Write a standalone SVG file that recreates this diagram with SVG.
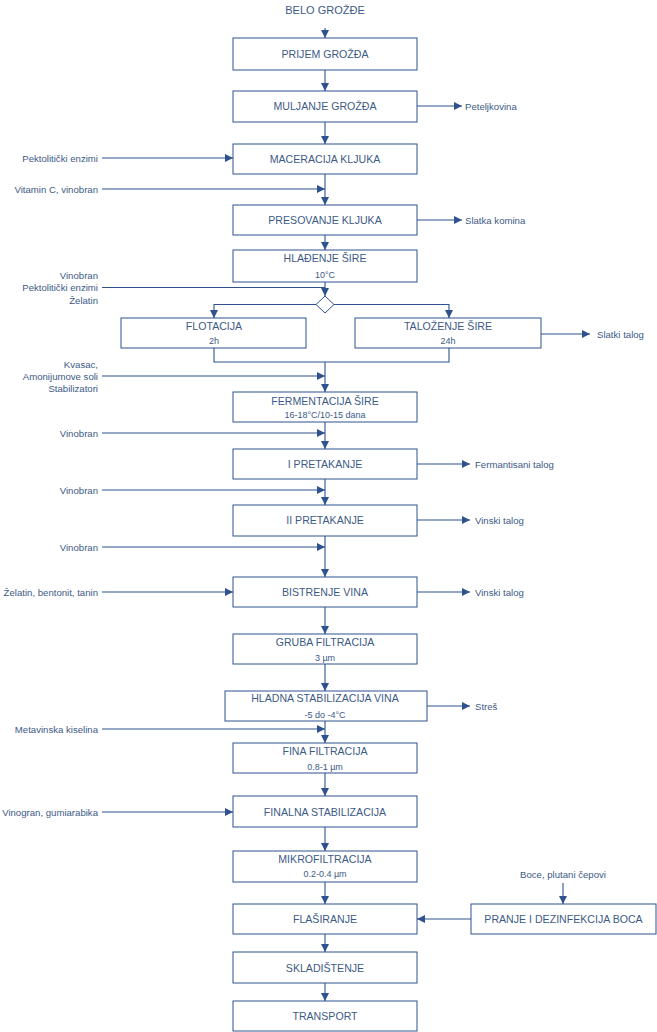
<svg xmlns="http://www.w3.org/2000/svg" width="657" height="1032" viewBox="0 0 657 1032">
<style>
.bx{fill:#ffffff;stroke:#2F528F;stroke-width:1}
.t{font-family:'Liberation Sans',Arial,sans-serif;font-size:10.6px;fill:#3D5A86;text-anchor:middle}
.s{font-size:9px}
.l{font-family:'Liberation Sans',Arial,sans-serif;font-size:9.6px;fill:#3D5A86;text-anchor:end}
.r{font-family:'Liberation Sans',Arial,sans-serif;font-size:9.6px;fill:#3D5A86;text-anchor:start}
.c{fill:none;stroke:#2F528F;stroke-width:1.1}
.a{marker-end:url(#ah)}
</style>
<defs>
<marker id="ah" markerUnits="userSpaceOnUse" markerWidth="9" markerHeight="8" refX="8" refY="4" orient="auto" viewBox="0 0 9 8">
<path d="M0,0 L8,4 L0,8 z" fill="#2F528F"/>
</marker>
</defs>
<rect width="657" height="1032" fill="#ffffff"/>
<g id="connectors">
<line class="c a" x1="325" y1="28" x2="325" y2="38"/>
<line class="c a" x1="325" y1="70" x2="325" y2="91"/>
<line class="c a" x1="417" y1="106" x2="462" y2="106"/>
<line class="c a" x1="325" y1="122" x2="325" y2="144"/>
<line class="c a" x1="102" y1="158" x2="233" y2="158"/>
<line class="c a" x1="325" y1="174" x2="325" y2="205"/>
<line class="c a" x1="102" y1="189" x2="325" y2="189"/>
<line class="c a" x1="417" y1="220" x2="462" y2="220"/>
<line class="c a" x1="325" y1="235" x2="325" y2="250"/>
<line class="c a" x1="325" y1="282" x2="325" y2="296"/>
<line class="c" x1="102" y1="287.5" x2="325" y2="287.5"/>
<polyline class="c a" points="316,304.5 214,304.5 214,318"/>
<polyline class="c a" points="334,304.5 449,304.5 449,318"/>
<line class="c a" x1="541" y1="334" x2="590" y2="334"/>
<polyline class="c" points="214,348 214,362 449,362 449,348"/>
<line class="c a" x1="325" y1="362" x2="325" y2="392"/>
<line class="c a" x1="102" y1="376" x2="325" y2="376"/>
<line class="c a" x1="325" y1="422" x2="325" y2="449"/>
<line class="c a" x1="102" y1="433" x2="325" y2="433"/>
<line class="c a" x1="417" y1="464" x2="470" y2="464"/>
<line class="c a" x1="325" y1="479" x2="325" y2="505"/>
<line class="c a" x1="102" y1="490" x2="325" y2="490"/>
<line class="c a" x1="417" y1="520" x2="470" y2="520"/>
<line class="c a" x1="325" y1="536" x2="325" y2="577"/>
<line class="c a" x1="102" y1="547" x2="325" y2="547"/>
<line class="c a" x1="102" y1="592" x2="233" y2="592"/>
<line class="c a" x1="417" y1="592" x2="470" y2="592"/>
<line class="c a" x1="325" y1="607" x2="325" y2="634"/>
<line class="c a" x1="325" y1="664" x2="325" y2="691"/>
<line class="c a" x1="427" y1="706" x2="470" y2="706"/>
<line class="c a" x1="325" y1="721" x2="325" y2="743"/>
<line class="c a" x1="102" y1="729" x2="325" y2="729"/>
<line class="c a" x1="325" y1="773" x2="325" y2="796"/>
<line class="c a" x1="102" y1="812" x2="233" y2="812"/>
<line class="c a" x1="325" y1="827" x2="325" y2="851"/>
<line class="c a" x1="325" y1="882" x2="325" y2="904"/>
<line class="c a" x1="563" y1="883" x2="563" y2="904"/>
<line class="c a" x1="471" y1="919" x2="417" y2="919"/>
<line class="c a" x1="325" y1="934" x2="325" y2="952"/>
<line class="c a" x1="325" y1="983" x2="325" y2="1001"/>
</g>
<g id="labels">
<text class="t" x="325" y="14" style="font-size:11px">BELO GROŽĐE</text>
<text class="r" x="465" y="109.5">Peteljkovina</text>
<text class="l" x="98" y="161.5">Pektolitički enzimi</text>
<text class="l" x="98" y="192.5">Vitamin C, vinobran</text>
<text class="r" x="465" y="223.5">Slatka komina</text>
<text class="l" x="98" y="278.5">Vinobran</text>
<text class="l" x="98" y="291">Pektolitički enzimi</text>
<text class="l" x="98" y="303.5">Želatin</text>
<text class="r" x="597" y="337.5">Slatki talog</text>
<text class="l" x="98" y="367.5">Kvasac,</text>
<text class="l" x="98" y="379.5">Amonijumove soli</text>
<text class="l" x="98" y="391.5">Stabilizatori</text>
<text class="l" x="98" y="436.5">Vinobran</text>
<text class="r" x="475" y="467.5">Fermantisani talog</text>
<text class="l" x="98" y="493.5">Vinobran</text>
<text class="r" x="475" y="523.5">Vinski talog</text>
<text class="l" x="98" y="550.5">Vinobran</text>
<text class="l" x="98" y="595.5">Želatin, bentonit, tanin</text>
<text class="r" x="475" y="595.5">Vinski talog</text>
<text class="r" x="475" y="709.5">Streš</text>
<text class="l" x="98" y="732.5">Metavinska kiselina</text>
<text class="l" x="98" y="815.5">Vinogran, gumiarabika</text>
<text class="r" x="563" y="877.5" style="text-anchor:middle">Boce, plutani čepovi</text>
</g>
<g id="n1"><rect class="bx" x="233" y="38" width="184" height="32"/><text class="t" x="325" y="57.5">PRIJEM GROŽĐA</text></g>
<g id="n2"><rect class="bx" x="233" y="91" width="184" height="31"/><text class="t" x="325" y="110">MULJANJE GROŽĐA</text></g>
<g id="n3"><rect class="bx" x="233" y="144" width="184" height="30"/><text class="t" x="325" y="162.5">MACERACIJA KLJUKA</text></g>
<g id="n4"><rect class="bx" x="233" y="205" width="184" height="30"/><text class="t" x="325" y="223.5">PRESOVANJE KLJUKA</text></g>
<g id="n5"><rect class="bx" x="233" y="250" width="184" height="32"/><text class="t" x="325" y="261.5">HLAĐENJE ŠIRE</text><text class="t s" x="325" y="277.5">10°C</text></g>
<g id="split"><polygon points="325,296 334,304.5 325,313 316,304.5" fill="#ffffff" stroke="#2F528F" stroke-width="1"/></g>
<g id="n6"><rect class="bx" x="121" y="318" width="185" height="30"/><text class="t" x="214" y="329.5">FLOTACIJA</text><text class="t s" x="214" y="343.5">2h</text></g>
<g id="n7"><rect class="bx" x="355" y="318" width="186" height="30"/><text class="t" x="448" y="329.5">TALOŽENJE ŠIRE</text><text class="t s" x="448" y="343.5">24h</text></g>
<g id="n8"><rect class="bx" x="233" y="392" width="184" height="30"/><text class="t" x="325" y="404.5">FERMENTACIJA ŠIRE</text><text class="t s" x="325" y="417.5">16-18°C/10-15 dana</text></g>
<g id="n9"><rect class="bx" x="233" y="449" width="184" height="30"/><text class="t" x="325" y="467.5">I PRETAKANJE</text></g>
<g id="n10"><rect class="bx" x="233" y="505" width="184" height="31"/><text class="t" x="325" y="524">II PRETAKANJE</text></g>
<g id="n11"><rect class="bx" x="233" y="577" width="184" height="30"/><text class="t" x="325" y="595.5">BISTRENJE VINA</text></g>
<g id="n12"><rect class="bx" x="233" y="634" width="184" height="30"/><text class="t" x="325" y="646">GRUBA FILTRACIJA</text><text class="t s" x="325" y="661">3 µm</text></g>
<g id="n13"><rect class="bx" x="225" y="691" width="202" height="30"/><text class="t" x="325" y="702">HLADNA STABILIZACIJA VINA</text><text class="t s" x="325" y="718">-5 do -4°C</text></g>
<g id="n14"><rect class="bx" x="233" y="743" width="184" height="30"/><text class="t" x="325" y="755">FINA FILTRACIJA</text><text class="t s" x="325" y="770">0.8-1 µm</text></g>
<g id="n15"><rect class="bx" x="233" y="796" width="184" height="31"/><text class="t" x="325" y="815.5">FINALNA STABILIZACIJA</text></g>
<g id="n16"><rect class="bx" x="233" y="851" width="184" height="31"/><text class="t" x="325" y="863">MIKROFILTRACIJA</text><text class="t s" x="325" y="877">0.2-0.4 µm</text></g>
<g id="n17"><rect class="bx" x="233" y="904" width="184" height="30"/><text class="t" x="325" y="923">FLAŠIRANJE</text></g>
<g id="n18"><rect class="bx" x="471" y="904" width="185" height="30"/><text class="t" x="563.5" y="923">PRANJE I DEZINFEKCIJA BOCA</text></g>
<g id="n19"><rect class="bx" x="233" y="952" width="184" height="31"/><text class="t" x="325" y="971.5">SKLADIŠTENJE</text></g>
<g id="n20"><rect class="bx" x="233" y="1001" width="184" height="30"/><text class="t" x="325" y="1020">TRANSPORT</text></g>
</svg>
